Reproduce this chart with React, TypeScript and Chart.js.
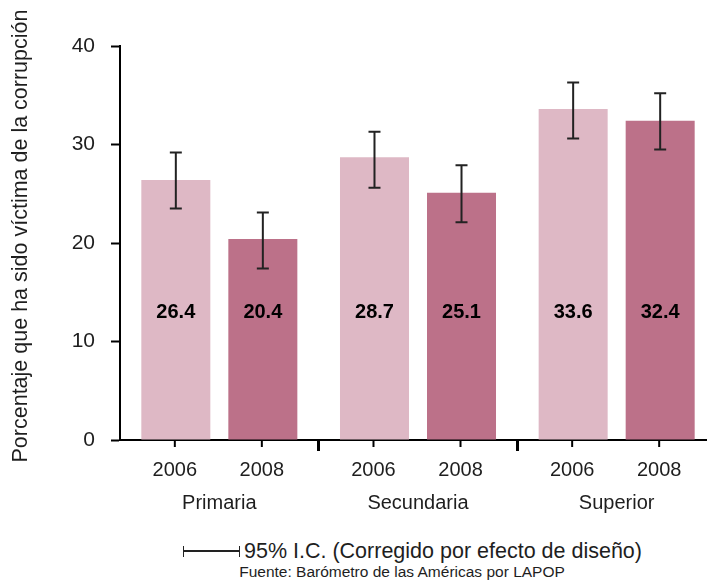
import React, { useEffect, useRef } from "react";
import { Chart, registerables } from "chart.js";

Chart.register(...registerables);

const groups = ["Primaria", "Secundaria", "Superior"];
const years = ["2006", "2008"];
const values2006 = [26.4, 28.7, 33.6];
const values2008 = [20.4, 25.1, 32.4];
const ciLow2006 = [23.5, 25.6, 30.6];
const ciHigh2006 = [29.2, 31.3, 36.3];
const ciLow2008 = [17.4, 22.1, 29.5];
const ciHigh2008 = [23.1, 27.9, 35.2];
const yTicks = [0, 10, 20, 30, 40];
const yTitle = "Porcentaje que ha sido víctima de la corrupción";
const legendText = "95% I.C. (Corregido por efecto de diseño)";
const sourceText = "Fuente: Barómetro de las Américas por LAPOP";

const FONT = "'Liberation Sans', Arial, sans-serif";
const TEXT = "#1e1e1e";
const lows = [ciLow2006, ciLow2008];
const highs = [ciHigh2006, ciHigh2008];

const extrasPlugin = {
  id: "extras",
  afterDatasetsDraw(chart: any) {
    const ctx = chart.ctx;
    const y = chart.scales.y;
    const area = chart.chartArea;
    ctx.save();
    chart.data.datasets.forEach((ds: any, i: number) => {
      const meta = chart.getDatasetMeta(i);
      meta.data.forEach((bar: any, j: number) => {
        const x = bar.x;
        ctx.fillStyle = "#000";
        ctx.font = "bold 20px " + FONT;
        ctx.textAlign = "center";
        ctx.textBaseline = "middle";
        ctx.fillText(ds.data[j].toFixed(1), x, y.getPixelForValue(12.9));
        const yl = y.getPixelForValue(lows[i][j]);
        const yh = y.getPixelForValue(highs[i][j]);
        ctx.strokeStyle = "#222";
        ctx.lineWidth = 2;
        ctx.beginPath();
        ctx.moveTo(x, yl);
        ctx.lineTo(x, yh);
        ctx.moveTo(x - 6, yl);
        ctx.lineTo(x + 6, yl);
        ctx.moveTo(x - 6, yh);
        ctx.lineTo(x + 6, yh);
        ctx.stroke();
        ctx.strokeStyle = "#000";
        ctx.beginPath();
        ctx.moveTo(x - 1, area.bottom);
        ctx.lineTo(x - 1, area.bottom + 7);
        ctx.stroke();
        ctx.fillStyle = TEXT;
        ctx.font = "20px " + FONT;
        ctx.fillText(years[i], x - 1, area.bottom + 30);
      });
    });
    // y-axis title
    ctx.translate(21, (area.top + area.bottom) / 2 - 7);
    ctx.rotate(-Math.PI / 2);
    ctx.fillStyle = TEXT;
    ctx.font = "21.5px " + FONT;
    ctx.textAlign = "center";
    ctx.textBaseline = "middle";
    ctx.fillText(yTitle, 0, 0);
    ctx.restore();
  },
};

export default function App() {
  const ref = useRef<HTMLCanvasElement>(null);
  useEffect(() => {
    if (!ref.current) return;
    const chart = new Chart(ref.current, {
      type: "bar",
      data: {
        labels: groups,
        datasets: [
          { label: years[0], data: values2006, backgroundColor: "#deb8c5", categoryPercentage: 0.876, barPercentage: 0.793 },
          { label: years[1], data: values2008, backgroundColor: "#bc7189", categoryPercentage: 0.876, barPercentage: 0.793 },
        ],
      },
      options: {
        animation: false,
        responsive: true,
        maintainAspectRatio: false,
        layout: { padding: { top: 46, right: 4, left: 0, bottom: 0 } },
        plugins: { legend: { display: false }, tooltip: { enabled: false } },
        scales: {
          x: {
            offset: true,
            grid: {
              offset: true,
              drawOnChartArea: false,
              drawTicks: true,
              tickLength: 11,
              tickWidth: 3,
              color: (c: any) => (c.index === 0 ? "rgba(0,0,0,0)" : "#000"),
            },
            border: { display: true, width: 2, color: "#000" },
            ticks: { font: { family: FONT, size: 20 }, color: TEXT, padding: 40 },
            afterFit: (s: any) => { s.height = 90; },
          },
          y: {
            min: 0,
            max: 40,
            afterBuildTicks: (s: any) => { s.ticks = yTicks.map((v) => ({ value: v })); },
            grid: { drawOnChartArea: false, drawTicks: true, tickLength: 9, tickWidth: 2, color: "#000" },
            border: { display: true, width: 2, color: "#000" },
            ticks: { font: { family: FONT, size: 21 }, color: TEXT, padding: 16 },
            afterFit: (s: any) => { s.width = 120; },
          },
        },
      },
      plugins: [extrasPlugin],
    });
    return () => chart.destroy();
  }, []);

  return (
    <div style={{ position: "absolute", left: 0, top: 0, width: 707, height: 582, overflow: "hidden", background: "#fff", fontFamily: FONT, color: TEXT }}>
      <div style={{ position: "absolute", left: 0, top: 0, width: 720, height: 530 }}>
        <canvas ref={ref} />
      </div>
      <div style={{ position: "absolute", left: 183, top: 539, height: 24, display: "flex", alignItems: "center", whiteSpace: "nowrap" }}>
        <div style={{ position: "relative", width: 55, height: 11, borderLeft: "1.5px solid #222", borderRight: "1.5px solid #222", marginRight: 4 }}>
          <div style={{ position: "absolute", left: 0, right: 0, top: 4.5, height: 1.5, background: "#222" }} />
        </div>
        <span style={{ fontSize: 21.5, lineHeight: "24px" }}>{legendText}</span>
      </div>
      <div style={{ position: "absolute", left: 0, width: 804, top: 563, lineHeight: "18px", textAlign: "center", fontSize: 15.5, whiteSpace: "nowrap" }}>
        {sourceText}
      </div>
    </div>
  );
}
